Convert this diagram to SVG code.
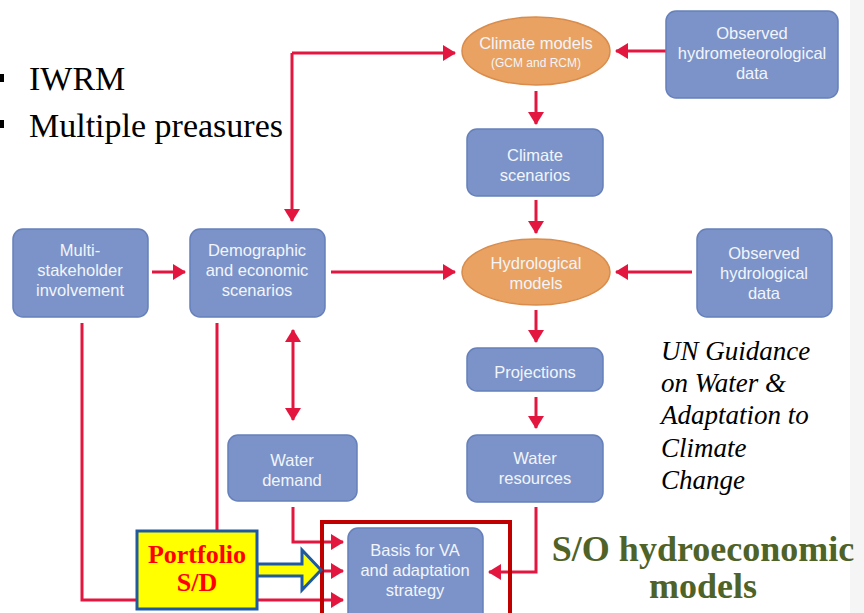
<svg xmlns="http://www.w3.org/2000/svg" width="864" height="613" viewBox="0 0 864 613">
  <defs>
    <marker id="arrow" markerUnits="userSpaceOnUse" markerWidth="14" markerHeight="16" refX="12" refY="8" orient="auto-start-reverse" viewBox="0 0 14 16">
      <path d="M0,0 L13,8 L0,16 Z" fill="#e3163f"/>
    </marker>
    <style>
      .box { fill: #7b93c8; stroke: #6680bb; stroke-width: 1.5; }
      .oval { fill: #e9a262; stroke: #d98c4c; stroke-width: 1.5; }
      .lbl { font-family: "Liberation Sans", Arial, sans-serif; font-size: 16.5px; fill: #f2f5fb; text-anchor: middle; }
      .small { font-size: 12px; }
      .link { fill: none; stroke: #e3163f; stroke-width: 3; }
      .arr { marker-end: url(#arrow); }
      .serif { font-family: "Liberation Serif", "Times New Roman", serif; }
    </style>
  </defs>

  <rect width="864" height="613" fill="#ffffff"/>
  <rect x="850" y="0" width="14" height="613" fill="#f5f5f5"/>

  <!-- bullet list -->
  <g id="bullets" class="serif" font-size="34" fill="#000">
    <rect x="0" y="74" width="4" height="8"/>
    <rect x="0" y="120" width="4" height="8"/>
    <text x="29" y="90">IWRM</text>
    <text x="29" y="137">Multiple preasures</text>
  </g>

  <!-- connectors -->
  <g id="connectors">
    <path class="link arr" d="M292,53 L455,53"/>
    <path class="link arr" d="M292,53 L292,221"/>
    <path class="link arr" d="M666,51 L616,51"/>
    <path class="link arr" d="M536,91 L536,124"/>
    <path class="link arr" d="M536,200 L536,233"/>
    <path class="link arr" d="M692,272 L616,272"/>
    <path class="link arr" d="M152,272 L185,272"/>
    <path class="link arr" d="M331,272 L455,272"/>
    <path class="link arr" d="M536,310 L536,342"/>
    <path class="link arr" d="M536,397 L536,428"/>
    <path class="link arr" d="M293,330 L293,420" style="marker-start:url(#arrow)"/>
    <path class="link arr" d="M536,507 L536,572 L489,572"/>
    <path class="link arr" d="M293,507 L293,542 L343,542"/>
    <path class="link arr" d="M82,323 L82,600 L343,600"/>
    <path class="link arr" d="M217,323 L217,571 L343,571"/>
  </g>

  <!-- nodes -->
  <g id="climate-models">
    <ellipse class="oval" cx="536" cy="51" rx="74" ry="34"/>
    <text class="lbl" x="536" y="49">Climate models</text>
    <text class="lbl small" x="536" y="67">(GCM and RCM)</text>
  </g>
  <g id="observed-hydromet">
    <rect class="box" x="666" y="11" width="172" height="87" rx="10"/>
    <text class="lbl" x="752" y="39">Observed</text>
    <text class="lbl" x="752" y="59">hydrometeorological</text>
    <text class="lbl" x="752" y="79">data</text>
  </g>
  <g id="climate-scenarios">
    <rect class="box" x="467" y="129" width="136" height="67" rx="10"/>
    <text class="lbl" x="535" y="161">Climate</text>
    <text class="lbl" x="535" y="181">scenarios</text>
  </g>
  <g id="multi-stakeholder">
    <rect class="box" x="13" y="229" width="135" height="88" rx="10"/>
    <text class="lbl" x="80" y="256">Multi-</text>
    <text class="lbl" x="80" y="276">stakeholder</text>
    <text class="lbl" x="80" y="296">involvement</text>
  </g>
  <g id="demographic">
    <rect class="box" x="190" y="229" width="135" height="88" rx="10"/>
    <text class="lbl" x="257" y="256">Demographic</text>
    <text class="lbl" x="257" y="276">and economic</text>
    <text class="lbl" x="257" y="296">scenarios</text>
  </g>
  <g id="hydrological-models">
    <ellipse class="oval" cx="536" cy="272" rx="74" ry="33"/>
    <text class="lbl" x="536" y="269">Hydrological</text>
    <text class="lbl" x="536" y="289">models</text>
  </g>
  <g id="observed-hydrological">
    <rect class="box" x="697" y="229" width="135" height="88" rx="10"/>
    <text class="lbl" x="764" y="259">Observed</text>
    <text class="lbl" x="764" y="279">hydrological</text>
    <text class="lbl" x="764" y="299">data</text>
  </g>
  <g id="projections">
    <rect class="box" x="467" y="348" width="136" height="43" rx="10"/>
    <text class="lbl" x="535" y="378">Projections</text>
  </g>
  <g id="water-demand">
    <rect class="box" x="228" y="435" width="129" height="66" rx="10"/>
    <text class="lbl" x="292" y="466">Water</text>
    <text class="lbl" x="292" y="486">demand</text>
  </g>
  <g id="water-resources">
    <rect class="box" x="467" y="435" width="136" height="67" rx="10"/>
    <text class="lbl" x="535" y="464">Water</text>
    <text class="lbl" x="535" y="484">resources</text>
  </g>
  <g id="basis">
    <rect class="box" x="348" y="528" width="135" height="100" rx="10"/>
    <text class="lbl" x="415" y="556">Basis for VA</text>
    <text class="lbl" x="415" y="576">and adaptation</text>
    <text class="lbl" x="415" y="596">strategy</text>
  </g>
  <g id="frame">
    <rect x="322" y="522" width="188" height="100" fill="none" stroke="#c00000" stroke-width="4"/>
  </g>

  <g id="portfolio">
    <polygon points="257,564 302,564 302,550 321,570 302,590 302,576 257,576" fill="#ffff00" stroke="#1f5aa0" stroke-width="3" stroke-linejoin="miter"/>
    <rect x="137" y="531" width="120" height="78" fill="#ffff00" stroke="#1f5aa0" stroke-width="3"/>
    <text class="serif" x="197" y="563" font-size="26" font-weight="bold" fill="#ff0000" text-anchor="middle">Portfolio</text>
    <text class="serif" x="197" y="591" font-size="26" font-weight="bold" fill="#ff0000" text-anchor="middle">S/D</text>
  </g>

  <!-- annotations -->
  <g id="un-guidance" class="serif" font-size="27" font-style="italic" fill="#000">
    <text x="661" y="360">UN Guidance</text>
    <text x="661" y="392">on Water &amp;</text>
    <text x="661" y="424">Adaptation to</text>
    <text x="661" y="457">Climate</text>
    <text x="661" y="489">Change</text>
  </g>
  <g id="hydroeconomic" class="serif" font-size="36" font-weight="bold" fill="#4f6228" text-anchor="middle">
    <text x="703" y="561">S/O hydroeconomic</text>
    <text x="703" y="598">models</text>
  </g>
</svg>
